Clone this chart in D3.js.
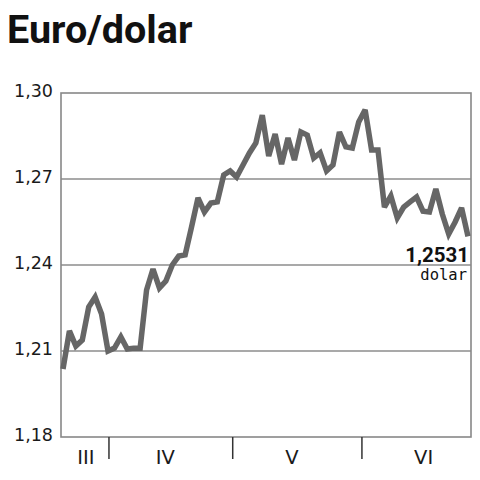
<!DOCTYPE html>
<html>
<head>
<meta charset="utf-8">
<script src="https://cdn.jsdelivr.net/npm/d3@7/dist/d3.min.js"></script>
<style>
  html, body { margin: 0; padding: 0; background: #fff; }
  svg { display: block; }
</style>
</head>
<body>
<svg id="chart" width="480" height="480"></svg>
<script>
// ---- data ----
const title = "Euro/dolar";
const rates = [
  1.2037, 1.2170, 1.2117, 1.2138, 1.2253, 1.2288, 1.2229, 1.2100, 1.2110, 1.2149,
  1.2107, 1.2110, 1.2110, 1.2313, 1.2386, 1.2320, 1.2344, 1.2400, 1.2431, 1.2435,
  1.2533, 1.2634, 1.2585, 1.2616, 1.2620, 1.2714, 1.2728, 1.2707, 1.2749, 1.2791,
  1.2826, 1.2923, 1.2780, 1.2857, 1.2752, 1.2843, 1.2766, 1.2864, 1.2853, 1.2773,
  1.2791, 1.2728, 1.2749, 1.2864, 1.2812, 1.2808, 1.2899, 1.2941, 1.2801, 1.2801,
  1.2602, 1.2641, 1.2564, 1.2602, 1.2620, 1.2637, 1.2588, 1.2585, 1.2665, 1.2578,
  1.2508, 1.2550, 1.2599, 1.2500
];
const yTicks = [1.18, 1.21, 1.24, 1.27, 1.30];
const monthLabels = ["III", "IV", "V", "VI"];
const monthLabelPos = [3.55, 15.9, 35.6, 56.1];   // index units (trading days)
const monthBreaks = [7.15, 26.4, 46.5];           // index units
const lastValueLabel = "1,2531";
const unitLabel = "dolar";

// ---- layout ----
const svg = d3.select("#chart");
const mLeft = 61, mRight = 471, mTop = 93, mBottom = 437;

const x = d3.scaleLinear().domain([0, rates.length - 1]).range([63, 468]);
const y = d3.scaleLinear().domain([1.18, 1.30]).range([mBottom, mTop]);

const fmt = v => d3.format(".2f")(v).replace(".", ",");

// title
svg.append("text")
  .attr("x", 7).attr("y", 43)
  .attr("font-family", "Roboto, 'Liberation Sans', sans-serif")
  .attr("font-weight", "bold")
  .attr("font-size", 39.5)
  .attr("fill", "#111")
  .text(title);

// gridlines
svg.append("g")
  .selectAll("line")
  .data(yTicks.filter(d => d > 1.18 && d < 1.30))
  .join("line")
  .attr("x1", mLeft).attr("x2", mRight)
  .attr("y1", d => y(d)).attr("y2", d => y(d))
  .attr("stroke", "#555").attr("stroke-width", 1.1);

// frame
svg.append("rect")
  .attr("x", mLeft).attr("y", mTop)
  .attr("width", mRight - mLeft).attr("height", mBottom - mTop)
  .attr("fill", "none").attr("stroke", "#888").attr("stroke-width", 1.6);

// y axis labels
const yAxis = d3.axisLeft(y).tickValues(yTicks).tickFormat(fmt).tickSize(0).tickPadding(8);
const gy = svg.append("g").attr("transform", `translate(${mLeft},0)`).call(yAxis);
gy.select(".domain").remove();
gy.selectAll("text")
  .attr("font-family", "'DejaVu Sans', sans-serif")
  .attr("font-size", 17.5)
  .attr("fill", "#1a1a1a")
  .attr("dy", "0.22em");

// x axis: month separators and labels
const gx = svg.append("g").attr("transform", `translate(0,${mBottom})`);
gx.selectAll("line.sep")
  .data(monthBreaks)
  .join("line")
  .attr("class", "sep")
  .attr("x1", d => x(d)).attr("x2", d => x(d))
  .attr("y1", 0).attr("y2", 22)
  .attr("stroke", "#333").attr("stroke-width", 1.5);
gx.selectAll("text")
  .data(monthLabels)
  .join("text")
  .attr("x", (d, i) => x(monthLabelPos[i]))
  .attr("y", 27)
  .attr("text-anchor", "middle")
  .attr("font-family", "'DejaVu Sans', sans-serif")
  .attr("font-size", 19.5)
  .attr("fill", "#1a1a1a")
  .text(d => d);

// line
const line = d3.line()
  .x((d, i) => x(i))
  .y(d => y(d));
svg.append("path")
  .datum(rates)
  .attr("d", line)
  .attr("fill", "none")
  .attr("stroke", "#666")
  .attr("stroke-width", 5.5)
  .attr("stroke-linejoin", "miter")
  .attr("stroke-miterlimit", 3);

// last value annotation
svg.append("text")
  .attr("x", 469).attr("y", 262)
  .attr("text-anchor", "end")
  .attr("font-family", "Roboto, sans-serif")
  .attr("font-weight", "bold")
  .attr("font-size", 20.5)
  .attr("fill", "#111")
  .text(lastValueLabel);
svg.append("text")
  .attr("x", 467).attr("y", 280)
  .attr("text-anchor", "end")
  .attr("font-family", "'DejaVu Sans Mono', monospace")
  .attr("font-size", 15.5)
  .attr("fill", "#111")
  .text(unitLabel);
</script>
</body>
</html>
